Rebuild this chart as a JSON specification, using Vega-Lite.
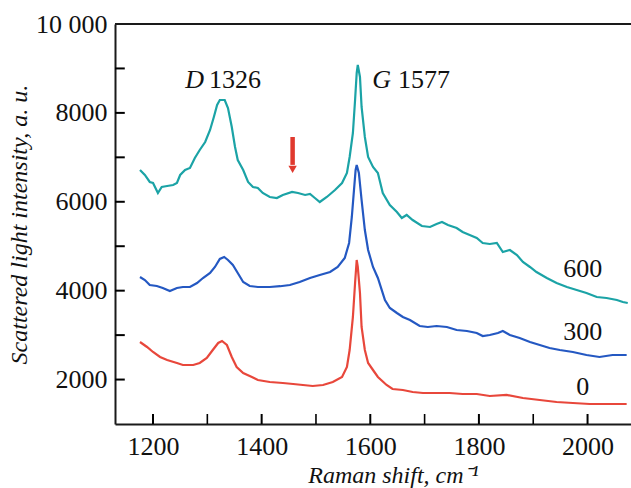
{
  "$schema": "https://vega.github.io/schema/vega-lite/v6.json",
  "width": 516,
  "height": 400,
  "autosize": {"type": "none"},
  "padding": {"left": 115, "top": 24, "right": 0, "bottom": 64},
  "background": "white",
  "config": {
    "view": {"stroke": null},
    "font": "Liberation Serif",
    "axis": {
      "domainColor": "#1a1a1a",
      "domainWidth": 2,
      "ticks": false,
      "grid": false,
      "labelFont": "Liberation Serif",
      "labelFontSize": 26,
      "labelColor": "#111",
      "titleFont": "Liberation Serif",
      "titleFontSize": 24,
      "titleFontStyle": "italic",
      "titleFontWeight": "normal",
      "titleColor": "#111"
    }
  },
  "datasets": {
    "spectra": [
      {"x":1176,"y":6715,"s":"600"},{"x":1185,"y":6603,"s":"600"},{"x":1194,"y":6445,"s":"600"},{"x":1200,"y":6423,"s":"600"},{"x":1209,"y":6198,"s":"600"},{"x":1216,"y":6333,"s":"600"},{"x":1226,"y":6355,"s":"600"},{"x":1237,"y":6378,"s":"600"},{"x":1244,"y":6423,"s":"600"},{"x":1250,"y":6603,"s":"600"},{"x":1259,"y":6715,"s":"600"},{"x":1268,"y":6760,"s":"600"},{"x":1277,"y":6985,"s":"600"},{"x":1286,"y":7165,"s":"600"},{"x":1296,"y":7345,"s":"600"},{"x":1305,"y":7615,"s":"600"},{"x":1312,"y":7908,"s":"600"},{"x":1318,"y":8178,"s":"600"},{"x":1323,"y":8290,"s":"600"},{"x":1332,"y":8290,"s":"600"},{"x":1338,"y":8110,"s":"600"},{"x":1345,"y":7683,"s":"600"},{"x":1351,"y":7233,"s":"600"},{"x":1356,"y":6940,"s":"600"},{"x":1366,"y":6715,"s":"600"},{"x":1375,"y":6445,"s":"600"},{"x":1384,"y":6333,"s":"600"},{"x":1393,"y":6310,"s":"600"},{"x":1402,"y":6198,"s":"600"},{"x":1415,"y":6108,"s":"600"},{"x":1428,"y":6085,"s":"600"},{"x":1439,"y":6153,"s":"600"},{"x":1456,"y":6220,"s":"600"},{"x":1467,"y":6198,"s":"600"},{"x":1480,"y":6153,"s":"600"},{"x":1489,"y":6175,"s":"600"},{"x":1498,"y":6085,"s":"600"},{"x":1507,"y":5995,"s":"600"},{"x":1520,"y":6108,"s":"600"},{"x":1535,"y":6265,"s":"600"},{"x":1548,"y":6423,"s":"600"},{"x":1557,"y":6648,"s":"600"},{"x":1562,"y":7008,"s":"600"},{"x":1568,"y":7548,"s":"600"},{"x":1572,"y":8290,"s":"600"},{"x":1575,"y":8898,"s":"600"},{"x":1577,"y":9078,"s":"600"},{"x":1581,"y":8808,"s":"600"},{"x":1584,"y":8133,"s":"600"},{"x":1590,"y":7458,"s":"600"},{"x":1596,"y":7008,"s":"600"},{"x":1605,"y":6783,"s":"600"},{"x":1614,"y":6648,"s":"600"},{"x":1623,"y":6198,"s":"600"},{"x":1636,"y":5928,"s":"600"},{"x":1649,"y":5770,"s":"600"},{"x":1658,"y":5635,"s":"600"},{"x":1667,"y":5703,"s":"600"},{"x":1678,"y":5590,"s":"600"},{"x":1695,"y":5455,"s":"600"},{"x":1710,"y":5433,"s":"600"},{"x":1722,"y":5500,"s":"600"},{"x":1732,"y":5545,"s":"600"},{"x":1743,"y":5478,"s":"600"},{"x":1759,"y":5410,"s":"600"},{"x":1770,"y":5320,"s":"600"},{"x":1783,"y":5253,"s":"600"},{"x":1796,"y":5185,"s":"600"},{"x":1807,"y":5073,"s":"600"},{"x":1820,"y":5050,"s":"600"},{"x":1833,"y":5073,"s":"600"},{"x":1844,"y":4870,"s":"600"},{"x":1857,"y":4915,"s":"600"},{"x":1870,"y":4803,"s":"600"},{"x":1881,"y":4645,"s":"600"},{"x":1894,"y":4533,"s":"600"},{"x":1906,"y":4420,"s":"600"},{"x":1925,"y":4285,"s":"600"},{"x":1943,"y":4173,"s":"600"},{"x":1962,"y":4083,"s":"600"},{"x":1980,"y":4015,"s":"600"},{"x":1998,"y":3948,"s":"600"},{"x":2017,"y":3858,"s":"600"},{"x":2035,"y":3835,"s":"600"},{"x":2054,"y":3790,"s":"600"},{"x":2065,"y":3745,"s":"600"},{"x":2074,"y":3723,"s":"600"},

      {"x":1176,"y":4308,"s":"300"},{"x":1185,"y":4240,"s":"300"},{"x":1194,"y":4128,"s":"300"},{"x":1207,"y":4105,"s":"300"},{"x":1218,"y":4060,"s":"300"},{"x":1231,"y":3993,"s":"300"},{"x":1244,"y":4060,"s":"300"},{"x":1255,"y":4083,"s":"300"},{"x":1268,"y":4083,"s":"300"},{"x":1281,"y":4173,"s":"300"},{"x":1292,"y":4285,"s":"300"},{"x":1305,"y":4398,"s":"300"},{"x":1314,"y":4533,"s":"300"},{"x":1323,"y":4713,"s":"300"},{"x":1331,"y":4758,"s":"300"},{"x":1338,"y":4690,"s":"300"},{"x":1347,"y":4578,"s":"300"},{"x":1356,"y":4398,"s":"300"},{"x":1366,"y":4195,"s":"300"},{"x":1378,"y":4105,"s":"300"},{"x":1393,"y":4083,"s":"300"},{"x":1415,"y":4083,"s":"300"},{"x":1434,"y":4100,"s":"300"},{"x":1452,"y":4128,"s":"300"},{"x":1470,"y":4195,"s":"300"},{"x":1489,"y":4285,"s":"300"},{"x":1507,"y":4353,"s":"300"},{"x":1526,"y":4420,"s":"300"},{"x":1540,"y":4533,"s":"300"},{"x":1553,"y":4735,"s":"300"},{"x":1561,"y":5073,"s":"300"},{"x":1566,"y":5658,"s":"300"},{"x":1570,"y":6265,"s":"300"},{"x":1573,"y":6715,"s":"300"},{"x":1575,"y":6828,"s":"300"},{"x":1579,"y":6648,"s":"300"},{"x":1584,"y":6040,"s":"300"},{"x":1590,"y":5365,"s":"300"},{"x":1596,"y":4915,"s":"300"},{"x":1605,"y":4533,"s":"300"},{"x":1614,"y":4285,"s":"300"},{"x":1627,"y":3790,"s":"300"},{"x":1636,"y":3610,"s":"300"},{"x":1649,"y":3498,"s":"300"},{"x":1660,"y":3408,"s":"300"},{"x":1673,"y":3340,"s":"300"},{"x":1691,"y":3205,"s":"300"},{"x":1706,"y":3183,"s":"300"},{"x":1722,"y":3205,"s":"300"},{"x":1741,"y":3183,"s":"300"},{"x":1759,"y":3115,"s":"300"},{"x":1778,"y":3093,"s":"300"},{"x":1796,"y":3048,"s":"300"},{"x":1807,"y":2980,"s":"300"},{"x":1820,"y":3003,"s":"300"},{"x":1835,"y":3048,"s":"300"},{"x":1844,"y":3093,"s":"300"},{"x":1857,"y":3003,"s":"300"},{"x":1875,"y":2935,"s":"300"},{"x":1894,"y":2845,"s":"300"},{"x":1912,"y":2778,"s":"300"},{"x":1930,"y":2710,"s":"300"},{"x":1949,"y":2665,"s":"300"},{"x":1973,"y":2620,"s":"300"},{"x":1998,"y":2553,"s":"300"},{"x":2022,"y":2508,"s":"300"},{"x":2046,"y":2553,"s":"300"},{"x":2072,"y":2553,"s":"300"},

      {"x":1176,"y":2845,"s":"0"},{"x":1189,"y":2733,"s":"0"},{"x":1200,"y":2620,"s":"0"},{"x":1213,"y":2508,"s":"0"},{"x":1226,"y":2440,"s":"0"},{"x":1244,"y":2373,"s":"0"},{"x":1255,"y":2328,"s":"0"},{"x":1274,"y":2328,"s":"0"},{"x":1286,"y":2373,"s":"0"},{"x":1299,"y":2485,"s":"0"},{"x":1310,"y":2665,"s":"0"},{"x":1320,"y":2823,"s":"0"},{"x":1327,"y":2868,"s":"0"},{"x":1336,"y":2778,"s":"0"},{"x":1345,"y":2508,"s":"0"},{"x":1354,"y":2283,"s":"0"},{"x":1366,"y":2148,"s":"0"},{"x":1382,"y":2058,"s":"0"},{"x":1393,"y":1990,"s":"0"},{"x":1415,"y":1945,"s":"0"},{"x":1439,"y":1923,"s":"0"},{"x":1458,"y":1900,"s":"0"},{"x":1476,"y":1878,"s":"0"},{"x":1494,"y":1855,"s":"0"},{"x":1513,"y":1878,"s":"0"},{"x":1531,"y":1945,"s":"0"},{"x":1548,"y":2058,"s":"0"},{"x":1557,"y":2283,"s":"0"},{"x":1562,"y":2665,"s":"0"},{"x":1568,"y":3408,"s":"0"},{"x":1572,"y":4173,"s":"0"},{"x":1575,"y":4690,"s":"0"},{"x":1577,"y":4533,"s":"0"},{"x":1581,"y":3948,"s":"0"},{"x":1584,"y":3183,"s":"0"},{"x":1590,"y":2665,"s":"0"},{"x":1596,"y":2373,"s":"0"},{"x":1605,"y":2215,"s":"0"},{"x":1614,"y":2058,"s":"0"},{"x":1630,"y":1878,"s":"0"},{"x":1641,"y":1788,"s":"0"},{"x":1660,"y":1765,"s":"0"},{"x":1678,"y":1720,"s":"0"},{"x":1697,"y":1698,"s":"0"},{"x":1722,"y":1698,"s":"0"},{"x":1746,"y":1698,"s":"0"},{"x":1770,"y":1675,"s":"0"},{"x":1796,"y":1675,"s":"0"},{"x":1820,"y":1630,"s":"0"},{"x":1851,"y":1653,"s":"0"},{"x":1881,"y":1585,"s":"0"},{"x":1912,"y":1540,"s":"0"},{"x":1943,"y":1495,"s":"0"},{"x":1973,"y":1473,"s":"0"},{"x":2004,"y":1450,"s":"0"},{"x":2035,"y":1450,"s":"0"},{"x":2072,"y":1450,"s":"0"}
    ],
    "italicLabels": [
      {"x":1294,"y":8560,"t":"D"},
      {"x":1638,"y":8560,"t":"G"}
    ],
    "romanLabels": [
      {"x":1303,"y":8560,"t":"1326"},
      {"x":1651,"y":8560,"t":"1577"}
    ],
    "seriesLabels": [
      {"x":1991,"y":4308,"t":"600"},
      {"x":1991,"y":2890,"t":"300"},
      {"x":1991,"y":1653,"t":"0"}
    ],
    "arrow": [
      {"x":1457,"y":7458,"y2":6830}
    ],
    "arrowHead": [
      {"x":1457,"y":6730}
    ],
    "frameTop": [
      {"y":10000}
    ],
    "xTicks": [{"x":1200,"k":"major"},{"x":1300,"k":"minor"},{"x":1400,"k":"major"},{"x":1500,"k":"minor"},{"x":1600,"k":"major"},{"x":1700,"k":"minor"},{"x":1800,"k":"major"},{"x":1900,"k":"minor"},{"x":2000,"k":"major"}],
    "yTicks": [{"y":2000,"k":"major"},{"y":3000,"k":"minor"},{"y":4000,"k":"major"},{"y":5000,"k":"minor"},{"y":6000,"k":"major"},{"y":7000,"k":"minor"},{"y":8000,"k":"major"},{"y":9000,"k":"minor"}]
  },
  "layer": [
    {
      "data": {"name": "spectra"},
      "mark": {"type": "line", "strokeWidth": 2.2},
      "encoding": {
        "x": {
          "field": "x", "type": "quantitative",
          "scale": {"domain": [1130, 2080], "nice": false, "zero": false},
          "axis": {
            "title": "Raman shift, cm⁻¹",
            "values": [1200,1400,1600,1800,2000],
            "format": "d",
            "labelPadding": 9,
            "titlePadding": 4,
            "titleX": 278
          }
        },
        "y": {
          "field": "y", "type": "quantitative",
          "scale": {"domain": [1000, 10000], "nice": false, "zero": false},
          "axis": {
            "title": "Scattered light intensity, a. u.",
            "values": [2000,4000,6000,8000,10000],
            "labelExpr": "datum.value == 10000 ? '10 000' : format(datum.value, 'd')",
            "labelPadding": 8,
            "titlePadding": 4
          }
        },
        "color": {
          "field": "s", "type": "nominal",
          "scale": {"domain": ["600","300","0"], "range": ["#1ba3a6","#2458c2","#e8473b"]},
          "legend": null
        },
        "order": {"field": "x", "type": "quantitative"}
      }
    },
    {
      "data": {"name": "frameTop"},
      "mark": {"type": "rule", "color": "#1a1a1a", "strokeWidth": 2},
      "encoding": {"y": {"field": "y", "type": "quantitative"}}
    },
    {
      "data": {"name": "xTicks"},
      "mark": {"type": "rule", "stroke": "#000000", "strokeWidth": 2, "opacity": 1},
      "encoding": {
        "x": {"field": "x", "type": "quantitative"},
        "y": {"datum": 1000, "type": "quantitative"},
        "y2": {"datum": 1225},
        "size": {"field": "k", "type": "nominal", "scale": {"domain": ["major","minor"], "range": [2, 1.6]}, "legend": null}
      }
    },
    {
      "data": {"name": "yTicks"},
      "mark": {"type": "rule", "stroke": "#000000", "strokeWidth": 2, "opacity": 1},
      "encoding": {
        "y": {"field": "y", "type": "quantitative"},
        "x": {"datum": 1130, "type": "quantitative"},
        "x2": {"datum": 1148}
      }
    },
    {
      "data": {"name": "italicLabels"},
      "mark": {"type": "text", "align": "right", "baseline": "alphabetic", "fontSize": 26, "fontStyle": "italic", "font": "Liberation Serif", "color": "#111"},
      "encoding": {
        "x": {"field": "x", "type": "quantitative"},
        "y": {"field": "y", "type": "quantitative"},
        "text": {"field": "t"}
      }
    },
    {
      "data": {"name": "romanLabels"},
      "mark": {"type": "text", "align": "left", "baseline": "alphabetic", "fontSize": 26, "font": "Liberation Serif", "color": "#111"},
      "encoding": {
        "x": {"field": "x", "type": "quantitative"},
        "y": {"field": "y", "type": "quantitative"},
        "text": {"field": "t"}
      }
    },
    {
      "data": {"name": "seriesLabels"},
      "mark": {"type": "text", "align": "center", "baseline": "alphabetic", "fontSize": 26, "font": "Liberation Serif", "color": "#111"},
      "encoding": {
        "x": {"field": "x", "type": "quantitative"},
        "y": {"field": "y", "type": "quantitative"},
        "text": {"field": "t"}
      }
    },
    {
      "data": {"name": "arrow"},
      "mark": {"type": "rule", "color": "#e0392e", "strokeWidth": 4.5},
      "encoding": {
        "x": {"field": "x", "type": "quantitative"},
        "y": {"field": "y", "type": "quantitative"},
        "y2": {"field": "y2"}
      }
    },
    {
      "data": {"name": "arrowHead"},
      "mark": {"type": "point", "shape": "triangle-down", "filled": true, "color": "#e0392e", "size": 70, "opacity": 1},
      "encoding": {
        "x": {"field": "x", "type": "quantitative"},
        "y": {"field": "y", "type": "quantitative"}
      }
    }
  ]
}
